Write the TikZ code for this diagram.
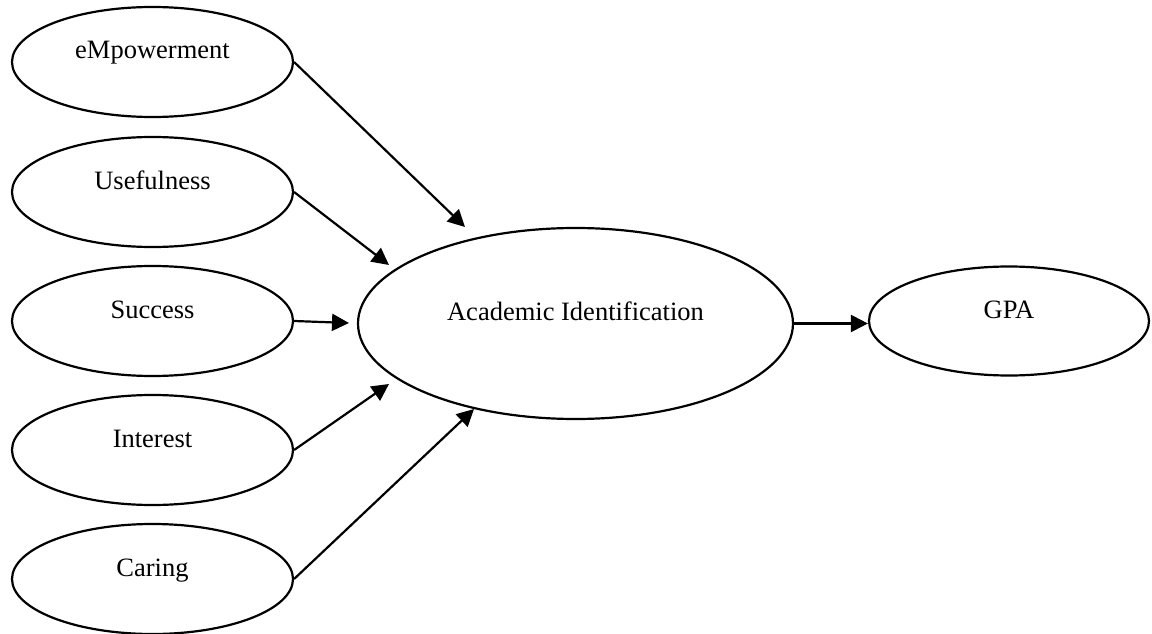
\documentclass[tikz,border=0pt]{standalone}
\usepackage{fontspec}
\setmainfont{Liberation Serif}
\usetikzlibrary{shapes.geometric,arrows.meta}
\begin{document}
\begin{tikzpicture}[x=1pt,y=-1pt,
  oval/.style={draw,line width=2.2pt,ellipse,inner sep=0pt},
  small/.style={oval,minimum width=281pt,minimum height=110pt},
  lbl/.style={anchor=base,inner sep=0pt,font=\fontsize{26.5}{30}\selectfont},
  conn/.style={line width=2.2pt,-{Triangle[length=17pt,width=17pt]}}]
\useasboundingbox (0,0) rectangle (1152,634);
\node[small] (emp) at (152.5,62) {};
\node[small] (use) at (152.5,192) {};
\node[small] (suc) at (152.5,321) {};
\node[small] (int) at (152.5,450) {};
\node[small] (car) at (152.5,579) {};
\node[oval,minimum width=435pt,minimum height=191pt] (ai) at (575.5,323.5) {};
\node[oval,minimum width=280pt,minimum height=109pt] (gpa) at (1009,321) {};
\node[lbl] (templ) at ([yshift=3pt]emp.center) {eMpowerment};
\node[lbl] (tuse) at ([yshift=3pt]use.center) {Usefulness};
\node[lbl] (tsuc) at ([yshift=3pt]suc.center) {Success};
\node[lbl] (tint) at ([yshift=3pt]int.center) {Interest};
\node[lbl] (tcar) at ([yshift=3pt]car.center) {Caring};
\node[lbl] (tai) at ([yshift=3pt]ai.center) {Academic Identification};
\node[lbl] (tgpa) at ([yshift=3pt]gpa.center) {GPA};
\coordinate (p1) at (465,227);
\coordinate (p2) at (389,265);
\coordinate (p3) at (349,323);
\coordinate (p4) at (389,384);
\coordinate (p5) at (474,409);
\draw[conn] (emp.east) -- (p1);
\draw[conn] (use.east) -- (p2);
\draw[conn] (suc.east) -- (p3);
\draw[conn] (int.east) -- (p4);
\draw[conn] (car.east) -- (p5);
\draw[conn] (ai.east) -- (ai.east -| gpa.west);
\end{tikzpicture}
\end{document}
